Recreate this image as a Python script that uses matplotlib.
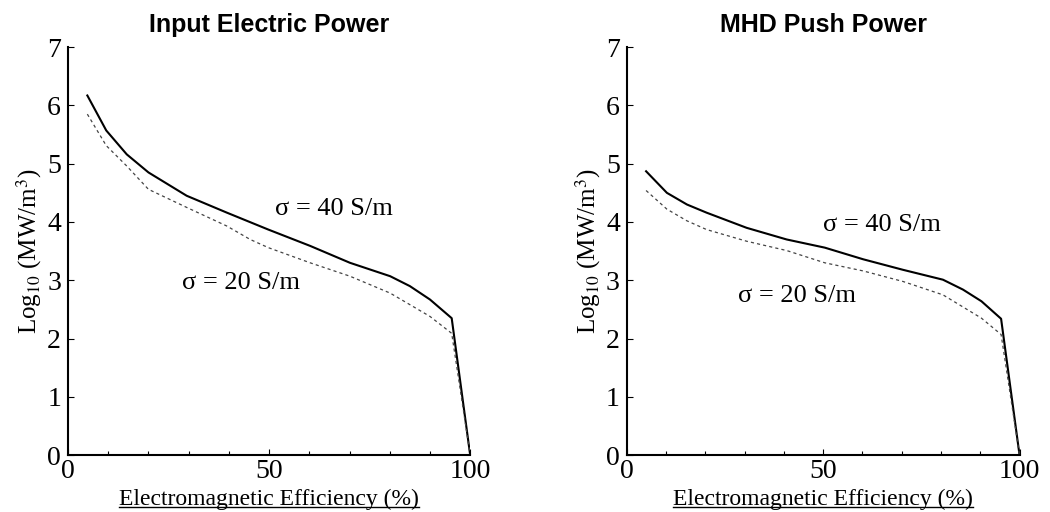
import numpy as np
import matplotlib
matplotlib.use("Agg")
from matplotlib import pyplot as plt
from matplotlib.lines import Line2D

plt.rcParams["mathtext.fontset"] = "stix"

# efficiency (%) and log10 power density (MW/m^3)
eff_in_40 = [4.8, 9.5, 14.6, 20, 29.5, 39.5, 49.8, 60.2, 70.1, 80.1, 85, 90, 95.4, 100]
pow_in_40 = [6.17, 5.57, 5.16, 4.85, 4.45, 4.16, 3.87, 3.59, 3.30, 3.07, 2.90, 2.67, 2.35, 0]
eff_in_20 = [4.8, 9.5, 14.6, 20, 29.5, 39.5, 45.3, 49.8, 60.2, 70.1, 80.1, 90, 95.4, 100]
pow_in_20 = [5.85, 5.31, 4.96, 4.56, 4.25, 3.93, 3.70, 3.56, 3.30, 3.07, 2.78, 2.38, 2.09, 0]

eff_push_40 = [4.9, 10.2, 15.3, 20.3, 30.5, 40.7, 50.4, 60.2, 70.3, 80.5, 85.6, 90.3, 95.3, 100]
pow_push_40 = [4.87, 4.50, 4.30, 4.16, 3.90, 3.70, 3.56, 3.36, 3.18, 3.01, 2.84, 2.64, 2.34, 0]
eff_push_20 = [4.9, 10.2, 15.3, 20.3, 30.5, 40.7, 50.4, 60.2, 70.3, 80.5, 90.3, 95.3, 100]
pow_push_20 = [4.54, 4.22, 4.02, 3.87, 3.67, 3.51, 3.30, 3.16, 2.98, 2.75, 2.35, 2.07, 0]

titles = ["Input Electric Power", "MHD Push Power"]
label_40 = "σ = 40 S/m"
label_20 = "σ = 20 S/m"
label_pos_40 = [(51.5, 4.22), (50, 3.95)]
label_pos_20 = [(28.3, 2.95), (28.4, 2.73)]

serif = ["Liberation Serif", "DejaVu Serif"]

fig = plt.figure(figsize=(10.5, 5.12), dpi=100)
ax1 = fig.add_axes([0.0648, 0.111, 0.383, 0.797])
ax2 = fig.add_axes([0.597, 0.111, 0.374, 0.797])

panels = [
    (ax1, eff_in_40, pow_in_40, eff_in_20, pow_in_20),
    (ax2, eff_push_40, pow_push_40, eff_push_20, pow_push_20),
]

for i, (ax, x40, y40, x20, y20) in enumerate(panels):
    ax.plot(x40, y40, color="black", lw=1.5)
    ax.plot(x20, y20, color="#444444", lw=0.9, linestyle=(0, (2.5, 2.5)))

    ax.text(*label_pos_40[i], label_40, fontsize=19, family=serif, va="center")
    ax.text(*label_pos_20[i], label_20, fontsize=19, family=serif, va="center")

    ax.set_xlim(0, 100)
    ax.set_ylim(0, 7)
    ax.set_xticks([0, 50, 100])
    ax.set_xticks(np.arange(0, 101, 10), minor=True)
    ax.set_yticks(range(0, 8))
    ax.spines["top"].set_visible(False)
    ax.spines["right"].set_visible(False)
    ax.spines["left"].set_linewidth(1.5)
    ax.spines["bottom"].set_linewidth(1.5)
    ax.tick_params(direction="in", length=4, width=0.8, labelsize=20)
    ax.tick_params(axis="x", pad=3)
    ax.tick_params(axis="y", pad=5)
    ax.tick_params(which="minor", direction="in", length=3, width=0.8)
    for lab in ax.get_xticklabels() + ax.get_yticklabels():
        lab.set_family(serif)

    ax.set_title(titles[i], fontsize=18, fontweight="bold",
                 family=["Liberation Sans", "DejaVu Sans"], pad=11)
    ax.set_ylabel(r"Log$_{10}$ (MW/m$^3$)", fontsize=18, family=serif, labelpad=2)
    ax.set_xlabel("Electromagnetic Efficiency (%)", fontsize=17, family=serif, labelpad=3)

# underline the x labels
fig.canvas.draw()
inv = fig.transFigure.inverted()
for ax in (ax1, ax2):
    bb = ax.xaxis.label.get_window_extent()
    (x0, y0), (x1, _) = inv.transform([(bb.x0, bb.y0 + 3), (bb.x1, bb.y0)])
    fig.add_artist(Line2D([x0, x1], [y0, y0], color="black", lw=1.0,
                          transform=fig.transFigure))

fig.savefig("out.png", dpi=100)
